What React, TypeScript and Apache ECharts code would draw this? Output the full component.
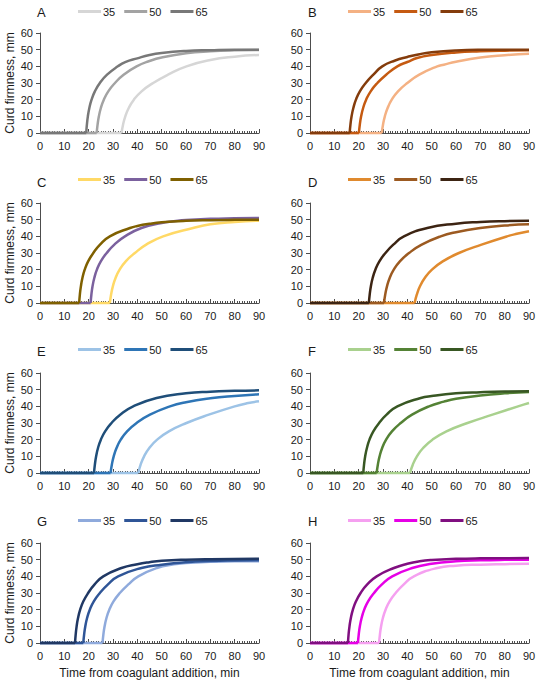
import React, { useEffect, useRef } from "react";
import * as echarts from "echarts";

// ---- data (x = minutes, y = curd firmness, mm) ----
const PANELS = ["A", "B", "C", "D", "E", "F", "G", "H"];
const LEVELS = ["35", "50", "65"];
const X_MIN = 0, X_MAX = 90, X_STEP = 10;
const Y_MIN = 0, Y_MAX = 60, Y_STEP = 10;
const X_TITLE = "Time from coagulant addition, min";
const Y_TITLE = "Curd firmness, mm";

const A35 = [[33.5,0],[34.13,5],[35.06,10],[36.47,15],[38.58,20],[41.75,25],[46.5,30],[52.6,35],[60.2,40],[70,43.8],[80,45.8],[90,46.8]];
const A50 = [[23.3,0],[23.66,5],[24.2,10],[25.01,15],[26.23,20],[28.06,25],[30.8,30],[34.36,35],[39.7,40],[45,43.2],[50,45.3],[60,47.8],[70,49],[80,49.6],[90,49.8]];
const A65 = [[19,0],[19.27,5],[19.67,10],[20.28,15],[21.19,20],[22.55,25],[24.6,30],[27.56,35],[32,40],[35,42.5],[40,44.8],[45,46.8],[50,48],[60,49.2],[70,49.7],[80,50],[90,50]];

const B35 = [[29.5,0],[30,5],[30.76,10],[31.9,15],[33.6,20],[36.16,25],[40,30],[44.92,35],[52.3,40],[55,41],[60,42.8],[70,45.3],[80,46.7],[90,47.6]];
const B50 = [[20.1,0],[20.47,5],[21.01,10],[21.84,15],[23.07,20],[24.93,25],[27.7,30],[31.3,35],[35.9,40],[40,42.6],[44,45],[50,46.8],[60,48.3],[70,49],[80,49.4],[90,49.6]];
const B65 = [[16.3,0],[16.62,5],[17.09,10],[17.81,15],[18.88,20],[20.48,25],[22.9,30],[26.05,35],[29.7,40],[35,43.5],[40,45.6],[45,47.3],[50,48.4],[60,49.5],[70,49.9],[90,50]];

const C35 = [[28.7,0],[29.2,5],[29.94,10],[31.05,15],[32.72,20],[35.23,25],[39,30],[43.64,35],[50.6,40],[62.9,45],[70,47.2],[80,48.6],[90,49.4]];
const C50 = [[20.8,0],[21.12,5],[21.59,10],[22.31,15],[23.38,20],[24.98,25],[27.4,30],[30.55,35],[34.9,40],[41.7,45],[50,48],[55,49],[60,49.8],[70,50.5],[80,50.8],[90,51]];
const C65 = [[16.1,0],[16.38,5],[16.8,10],[17.43,15],[18.37,20],[19.78,25],[21.9,30],[24.66,35],[28.7,40],[37,45],[40,46.2],[45,47.5],[50,48.4],[60,49.3],[70,49.7],[80,49.9],[90,50]];

const D35 = [[43,0],[43.88,5],[45.19,10],[47.16,15],[50.11,20],[54.54,25],[61.2,30],[70.5,35],[81,40],[85,41.5],[90,43]];
const D50 = [[30.4,0],[30.9,5],[31.64,10],[32.75,15],[34.42,20],[36.93,25],[40.7,30],[45.9,35],[53.7,40],[60,42.5],[70,45],[80,46.5],[90,47.2]];
const D65 = [[24.2,0],[24.53,5],[25.02,10],[25.75,15],[26.86,20],[28.51,25],[31,30],[34.24,35],[38.6,40],[48.2,45],[60,47.6],[70,48.6],[80,49.1],[90,49.3]];

const E35 = [[40.4,0],[41.35,5],[42.78,10],[44.92,15],[48.14,20],[52.96,25],[60.2,30],[69.4,35],[80,40],[85,41.8],[90,43]];
const E50 = [[29,0],[29.52,5],[30.29,10],[31.45,15],[33.18,20],[35.79,25],[39.7,30],[45.18,35],[53.4,40],[60,42.5],[70,44.8],[80,46.2],[90,47.2]];
const E65 = [[22.2,0],[22.55,5],[23.07,10],[23.84,15],[25.01,20],[26.76,25],[29.4,30],[32.96,35],[38.3,40],[47.9,45],[60,47.8],[70,48.8],[80,49.3],[90,49.6]];

const F35 = [[41.1,0],[42.24,5],[43.94,10],[46.49,15],[50.32,20],[56.07,25],[64.7,30],[75,35],[85.5,40],[90,42]];
const F50 = [[27.4,0],[27.88,5],[28.59,10],[29.66,15],[31.27,20],[33.68,25],[37.3,30],[41.94,35],[48.9,40],[55,42.8],[60,44.5],[70,46.5],[80,47.8],[90,48.6]];
const F65 = [[21.9,0],[22.21,5],[22.68,10],[23.39,15],[24.44,20],[26.03,25],[28.4,30],[31.48,35],[35.9,40],[45.5,45],[50,46.2],[60,47.8],[70,48.5],[80,48.9],[90,49]];

const G35 = [[25.7,0],[26.04,5],[26.55,10],[27.32,15],[28.48,20],[30.21,25],[32.8,30],[36.2,35],[40.4,40],[48,45],[55,47.2],[60,48],[70,48.7],[80,49],[90,49]];
const G50 = [[17.8,0],[18.13,5],[18.62,10],[19.35,15],[20.46,20],[22.11,25],[24.6,30],[27.84,35],[32.1,40],[41.7,45],[50,47],[60,48.5],[70,49.2],[80,49.5],[90,49.6]];
const G65 = [[14.4,0],[14.66,5],[15.05,10],[15.63,15],[16.51,20],[17.83,25],[19.8,30],[22.36,35],[26,40],[33.5,45],[40,47.3],[45,48.5],[50,49.3],[60,50],[70,50.3],[90,50.5]];

const H35 = [[28.4,0],[28.73,5],[29.22,10],[29.95,15],[31.06,20],[32.71,25],[35.2,30],[38.44,35],[42.7,40],[52.3,45],[60,46.4],[70,47],[80,47.3],[90,47.5]];
const H50 = [[19.7,0],[20.02,5],[20.49,10],[21.21,15],[22.28,20],[23.88,25],[26.3,30],[29.45,35],[33.8,40],[42,45],[50,47.5],[60,49],[70,49.6],[80,49.9],[90,50]];
const H65 = [[15.6,0],[15.85,5],[16.23,10],[16.79,15],[17.63,20],[18.9,25],[20.8,30],[23.44,35],[27.4,40],[34.5,45],[40,47.5],[45,49],[50,49.8],[60,50.5],[70,50.8],[90,51]];

const CURVES: Record<string, number[][][]> = {
  A: [A35, A50, A65], B: [B35, B50, B65], C: [C35, C50, C65], D: [D35, D50, D65],
  E: [E35, E50, E65], F: [F35, F50, F65], G: [G35, G50, G65], H: [H35, H50, H65],
};

// ---- styles ----
const COLORS: Record<string, string[]> = {
  A: ["#d6d6d6", "#a3a3a3", "#787878"],
  B: ["#f4b183", "#c55a11", "#843c0c"],
  C: ["#ffd966", "#7b619e", "#7f6000"],
  D: ["#e08a2e", "#9c5a21", "#3c2413"],
  E: ["#9dc3e6", "#2e75b6", "#1f4e79"],
  F: ["#a9d18e", "#548235", "#385723"],
  G: ["#8faadc", "#2f5597", "#203864"],
  H: ["#f5a0f0", "#e600e6", "#800f80"],
};
const FONT = "'Liberation Sans', Arial, Helvetica, sans-serif";
const TXT = "#1a1a1a";
const AXIS = "#4d4d4d";
const GRID_LEFT = [40, 310];
const GRID_W = 219;
const GRID_H = 100;
const ROW_TOP = [33, 203, 373, 543];
const LABEL_Y = [13, 183, 352, 522];
const LEGEND_Y = [13, 181, 351, 522];
const LETTER_X = [37, 308];
const LEGEND_X = [78, 348];

export default function App() {
  const ref = useRef<HTMLDivElement>(null);
  useEffect(() => {
    if (!ref.current) return;
    const chart = echarts.init(ref.current, null, { renderer: "svg" });
    const grid: any[] = [];
    const xAxis: any[] = [];
    const yAxis: any[] = [];
    const title: any[] = [];
    const legend: any[] = [];
    const series: any[] = [];
    PANELS.forEach((p, i) => {
      const col = i % 2;
      const row = Math.floor(i / 2);
      grid.push({ left: GRID_LEFT[col], top: ROW_TOP[row], width: GRID_W, height: GRID_H, containLabel: false });
      xAxis.push({
        type: "value", gridIndex: i, min: X_MIN, max: X_MAX, interval: X_STEP,
        name: row === 3 ? X_TITLE : "", nameLocation: "middle", nameGap: 24,
        nameTextStyle: { fontFamily: FONT, fontSize: 12, color: TXT },
        axisLine: { show: true, lineStyle: { color: AXIS, width: 1 } },
        axisTick: { show: true, inside: true, length: 4, lineStyle: { color: AXIS } },
        minorTick: { show: true, splitNumber: 10, length: 2, lineStyle: { color: AXIS } },
        axisLabel: { fontFamily: FONT, fontSize: 11, color: TXT, margin: 7 },
        splitLine: { show: false },
        z: 1,
      });
      yAxis.push({
        type: "value", gridIndex: i, min: Y_MIN, max: Y_MAX, interval: Y_STEP,
        name: col === 0 ? Y_TITLE : "", nameLocation: "middle", nameGap: 24, nameRotate: 90,
        nameTextStyle: { fontFamily: FONT, fontSize: 12, color: TXT },
        axisLine: { show: true, lineStyle: { color: AXIS, width: 1 } },
        axisTick: { show: true, inside: false, length: 4, lineStyle: { color: AXIS } },
        axisLabel: { fontFamily: FONT, fontSize: 11, color: TXT, margin: 7 },
        splitLine: { show: false },
        z: 1,
      });
      title.push({
        text: p, left: LETTER_X[col], top: LABEL_Y[row] - 7, padding: 0,
        textStyle: { fontFamily: FONT, fontSize: 13, fontWeight: "normal", color: TXT },
      });
      legend.push({
        data: LEVELS.map((l) => p + l), left: LEGEND_X[col], top: LEGEND_Y[row] - 7, padding: 0,
        icon: "rect", itemWidth: 23, itemHeight: 3, itemGap: 9, selectedMode: false,
        formatter: (n: string) => n.slice(1),
        textStyle: { fontFamily: FONT, fontSize: 11, color: TXT, padding: [0, 0, 0, -3] },
      });
      LEVELS.forEach((l, k) => {
        const pts = CURVES[p][k];
        const color = COLORS[p][k];
        const name = p + l;
        series.push({
          type: "line", name, xAxisIndex: i, yAxisIndex: i, clip: false,
          data: [[X_MIN, 0], [pts[0][0], 0]], showSymbol: false, symbol: "none",
          lineStyle: { color, width: 2.5 }, itemStyle: { color }, z: 3 + k,
        });
        series.push({
          type: "line", name, xAxisIndex: i, yAxisIndex: i, clip: false,
          data: pts, showSymbol: false, symbol: "none", smooth: 0.5,
          lineStyle: { color, width: 2.5 }, itemStyle: { color }, z: 3 + k,
        });
      });
    });
    chart.setOption({ animation: false, backgroundColor: "#ffffff", grid, xAxis, yAxis, title, legend, series });
    return () => chart.dispose();
  }, []);
  return <div ref={ref} style={{ position: "absolute", left: 0, top: 0, width: 542, height: 682 }} />;
}
